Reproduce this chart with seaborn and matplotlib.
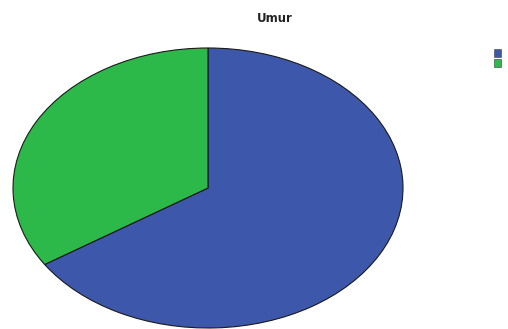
import matplotlib
matplotlib.use("Agg")
import matplotlib.pyplot as plt
import seaborn as sns
from matplotlib.patches import Patch

sns.set_theme(style="white")
plt.rcParams['font.family'] = ['DejaVu Sans']

categories = ["Kategori 1", "Kategori 2"]
values = [65.8, 34.2]
colors = ["#3D58AA", "#2DB84A"]
title = "Umur"

W, H = 508, 329
fig = plt.figure(figsize=(W / 100, H / 100), dpi=100)
fig.patch.set_facecolor("white")

cx, cy, rx, ry = 208, 188, 195, 140
ax = fig.add_axes([(cx - rx) / W, (H - (cy + ry)) / H, 2 * rx / W, 2 * ry / H])
ax.pie(values, colors=colors, startangle=90, counterclock=False,
       wedgeprops=dict(edgecolor="#1a1a1a", linewidth=0.8))
ax.set_aspect("auto")
ax.set_xlim(-1, 1)
ax.set_ylim(-1, 1)
ax.axis("off")

fig.text(275 / W, 1 - 19 / H, title, ha="center", va="center",
         fontsize=8.5, fontweight="bold", color="#222222")

handles = [Patch(facecolor=c, edgecolor="#555555", linewidth=0.5) for c in colors]
fig.legend(handles, ["", ""], loc="upper left", bbox_to_anchor=(494 / W, 1 - 49 / H),
           frameon=False, handlelength=0.65, handleheight=0.65, handletextpad=0,
           labelspacing=0.0, borderpad=0, borderaxespad=0, fontsize=8)

fig.savefig("out.png", dpi=100, facecolor="white")
